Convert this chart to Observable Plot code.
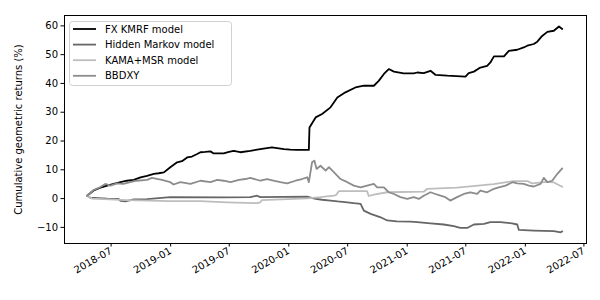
<!DOCTYPE html>
<html><head><meta charset="utf-8">
<script src="https://cdn.jsdelivr.net/npm/d3@7"></script>
<script src="https://cdn.jsdelivr.net/npm/@observablehq/plot@0.6"></script>
<style>
body{margin:0;background:#fff;}
#chart{position:relative;width:600px;height:300px;font-family:"DejaVu Sans",sans-serif;}
#legend{position:absolute;left:69px;top:21px;}
</style></head><body><div id="chart"></div>
<script>
const seriesNames = ["FX KMRF model", "Hidden Markov model", "KAMA+MSR model", "BBDXY"];
const seriesColors = ["#000000", "#666666", "#bdbdbd", "#8c8c8c"];
const yTicks = [-10, 0, 10, 20, 30, 40, 50, 60];
const xTickLabels = ["2018-07","2019-01","2019-07","2020-01","2020-07","2021-01","2021-07","2022-01","2022-07"];

const kmrfDates = ["2018-04-18","2018-05-08","2018-05-29","2018-06-19","2018-07-09","2018-07-30","2018-08-19","2018-09-09","2018-09-30","2018-10-20","2018-11-10","2018-11-25","2018-12-11","2018-12-31","2019-01-21","2019-02-05","2019-02-21","2019-03-08","2019-03-24","2019-04-03","2019-04-18","2019-05-04","2019-05-14","2019-06-14","2019-06-30","2019-07-15","2019-08-04","2019-09-04","2019-10-05","2019-11-10","2019-12-17","2020-01-06","2020-01-27","2020-03-03","2020-03-05","2020-03-24","2020-04-13","2020-05-09","2020-05-30","2020-06-24","2020-07-25","2020-08-20","2020-09-20","2020-10-05","2020-10-21","2020-11-05","2020-11-21","2020-12-21","2021-01-21","2021-02-01","2021-02-21","2021-03-14","2021-03-29","2021-05-05","2021-06-30","2021-07-10","2021-07-26","2021-08-15","2021-09-05","2021-09-15","2021-09-26","2021-10-27","2021-11-11","2021-12-07","2021-12-27","2022-01-07","2022-01-27","2022-02-07","2022-02-22","2022-03-10","2022-03-30","2022-04-15","2022-04-25"];
const kmrfValues = [1.0,2.8,3.8,4.5,5.1,5.7,6.2,6.5,7.4,7.9,8.6,8.8,9.1,10.9,12.6,13.0,14.3,14.6,15.5,16.1,16.2,16.4,15.7,15.7,16.2,16.6,16.1,16.6,17.2,17.8,17.2,17.0,16.9,16.9,24.7,28.2,29.4,31.7,35.1,36.9,38.6,39.2,39.2,40.9,43.3,45.0,44.1,43.5,43.5,43.8,43.6,44.4,43.0,42.7,42.4,43.6,44.1,45.5,46.1,47.3,49.4,49.4,51.3,51.7,52.5,53.1,53.7,54.5,56.5,57.9,58.3,59.8,58.9];

const hmmDates = ["2018-04-18","2018-04-28","2018-06-19","2018-07-24","2018-07-30","2018-08-14","2018-09-09","2018-10-20","2018-12-31","2019-06-14","2019-09-04","2019-09-25","2019-10-05","2020-02-27","2020-03-20","2020-04-13","2020-05-09","2020-05-31","2020-06-30","2020-07-20","2020-08-10","2020-08-20","2020-09-10","2020-10-11","2020-10-31","2020-11-30","2021-01-11","2021-02-01","2021-03-14","2021-04-24","2021-05-25","2021-06-14","2021-07-05","2021-07-26","2021-08-26","2021-09-15","2021-10-16","2021-11-21","2021-12-07","2021-12-12","2022-01-27","2022-03-30","2022-04-20","2022-04-25"];
const hmmValues = [1.0,0.3,0.0,-0.1,-0.8,-1.0,-0.3,-0.2,0.5,0.4,0.5,1.0,0.5,0.7,0.0,-0.4,-0.7,-1.0,-1.3,-1.6,-1.8,-4.2,-5.3,-6.5,-7.6,-7.9,-8.0,-8.2,-8.6,-9.0,-9.6,-10.2,-10.2,-9.0,-8.8,-8.2,-8.2,-8.6,-9.0,-10.9,-11.1,-11.3,-11.7,-11.4];

const kamaDates = ["2018-04-18","2018-05-03","2018-08-19","2018-12-31","2019-04-03","2019-06-24","2019-09-25","2019-10-05","2019-10-10","2020-02-27","2020-04-08","2020-04-28","2020-05-20","2020-05-27","2020-06-04","2020-08-30","2020-09-04","2020-09-20","2020-10-31","2021-02-21","2021-03-04","2021-06-04","2021-09-25","2021-11-27","2022-01-07","2022-01-22","2022-03-10","2022-03-30","2022-04-25"];
const kamaValues = [1.0,0.0,-0.5,-0.9,-0.9,-1.3,-1.6,-1.3,-0.5,0.1,0.5,0.8,1.0,1.3,2.6,2.6,0.9,1.4,2.2,2.4,3.4,3.8,5.0,6.1,6.1,5.3,5.8,5.6,4.1];

const bbdxyDates = ["2018-04-18","2018-05-08","2018-05-29","2018-06-13","2018-06-29","2018-07-19","2018-08-08","2018-08-29","2018-09-18","2018-10-20","2018-11-04","2018-12-05","2018-12-31","2019-01-10","2019-01-31","2019-03-03","2019-04-03","2019-05-04","2019-05-25","2019-06-14","2019-07-05","2019-07-31","2019-08-20","2019-09-04","2019-10-05","2019-10-26","2019-11-15","2019-12-06","2019-12-27","2020-01-22","2020-02-11","2020-02-27","2020-03-03","2020-03-13","2020-03-20","2020-03-27","2020-04-08","2020-04-24","2020-05-04","2020-05-20","2020-06-09","2020-06-30","2020-07-20","2020-08-10","2020-08-30","2020-09-20","2020-09-30","2020-10-21","2020-11-05","2020-11-21","2020-12-11","2021-01-01","2021-01-21","2021-02-06","2021-02-21","2021-03-14","2021-03-29","2021-04-14","2021-04-29","2021-05-14","2021-06-04","2021-06-25","2021-07-15","2021-08-05","2021-08-15","2021-09-05","2021-09-26","2021-10-11","2021-11-01","2021-11-22","2021-12-07","2021-12-27","2022-01-12","2022-01-27","2022-02-17","2022-02-27","2022-03-10","2022-03-25","2022-04-10","2022-04-25"];
const bbdxyValues = [1.0,3.0,4.0,5.1,4.5,5.3,5.1,5.7,6.2,6.5,7.2,6.5,5.7,4.9,5.7,5.1,6.2,5.7,6.5,6.2,5.7,6.5,6.8,7.2,6.2,6.8,6.2,5.7,5.3,6.2,6.8,7.4,5.7,12.6,13.2,10.3,11.4,9.7,10.9,9.1,6.8,5.7,4.5,3.9,4.5,5.1,3.9,3.9,2.2,1.6,0.5,-0.1,0.5,-0.1,1.0,2.2,1.6,1.0,0.5,-0.7,0.5,1.6,2.2,1.6,2.8,2.2,3.4,3.9,4.5,5.7,5.3,5.1,4.5,4.2,5.1,7.2,5.7,6.2,8.6,10.5];

const parse = d3.utcParse("%Y-%m-%d");
const allDates = [kmrfDates, hmmDates, kamaDates, bbdxyDates];
const allValues = [kmrfValues, hmmValues, kamaValues, bbdxyValues];
const series = allDates.map((ds, i) => ds.map((d, j) => ({date: parse(d), value: allValues[i][j], name: seriesNames[i]})));

const xTicks = xTickLabels.map(s => d3.utcParse("%Y-%m")(s));

const chart = Plot.plot({
  width: 600,
  height: 300,
  marginLeft: 64,
  marginRight: 14,
  marginTop: 15,
  marginBottom: 57,
  style: {fontFamily: "DejaVu Sans, sans-serif", fontSize: "10px", background: "white", color: "black"},
  x: {type: "utc", domain: [parse("2018-02-07"), parse("2022-07-09")]},
  y: {domain: [-15.6, 63.6]},
  marks: [
    ...series.map((data, i) => Plot.line(data, {x: "date", y: "value", stroke: seriesColors[i], strokeWidth: 1.8, strokeLinejoin: "round"})),
    Plot.frame({stroke: "black", strokeWidth: 1}),
    Plot.axisY({ticks: yTicks, tickSize: 3.5, tickPadding: 3, fontSize: 10, label: "Cumulative geometric returns (%)", labelAnchor: "center", labelArrow: "none", labelOffset: 50}),
    Plot.axisX({ticks: xTicks, tickFormat: d3.utcFormat("%Y-%m"), tickSize: 3.5, tickPadding: 3, tickRotate: -30, fontSize: 10, label: null})
  ]
});
document.getElementById("chart").appendChild(chart);

// legend
const lg = d3.select("#chart").append("svg").attr("id", "legend").attr("width", 164).attr("height", 66);
lg.append("rect").attr("x", 0.5).attr("y", 0.5).attr("width", 162).attr("height", 64).attr("rx", 3)
  .attr("fill", "rgba(255,255,255,0.8)").attr("stroke", "#d0d0d0");
seriesNames.forEach((n, i) => {
  const y = 8 + i * 15.6;
  lg.append("line").attr("x1", 4).attr("x2", 27).attr("y1", y).attr("y2", y).attr("stroke", seriesColors[i]).attr("stroke-width", 1.8);
  lg.append("text").attr("x", 36).attr("y", y).attr("dy", "0.35em").attr("font-size", 10).attr("font-family", "DejaVu Sans, sans-serif").text(n);
});
</script></body></html>
